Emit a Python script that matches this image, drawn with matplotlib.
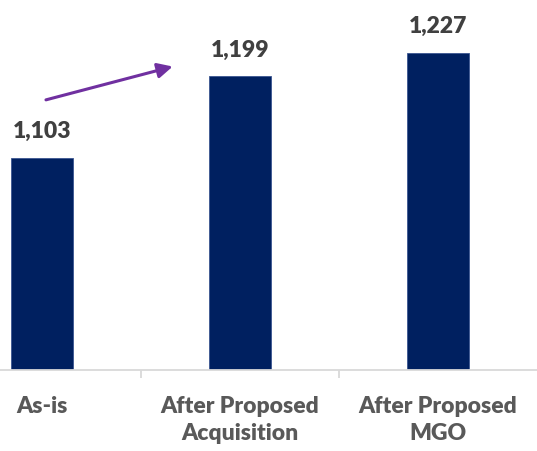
import numpy as np
import matplotlib.pyplot as plt

categories = ["As-is", "After Proposed\nAcquisition", "After Proposed\nMGO"]
values = [1103, 1199, 1227]
value_labels = ["1,103", "1,199", "1,227"]

plt.rcParams['font.family'] = ['Lato', 'DejaVu Sans']

fig = plt.figure(figsize=(5.37, 4.51), dpi=100)
ax = fig.add_axes([0, 81.5 / 451, 1, 369.5 / 451])

x = np.arange(len(values))
ax.bar(x, values, width=0.313, color='#002060', edgecolor='#3A5590', linewidth=0.6)

ax.set_xlim(-42 / 198, 2.5)
ax.set_ylim(853.5, 1289)

for a, b, t in zip(x, values, value_labels):
    ax.annotate(t, (a, b), xytext=(0, 14), textcoords='offset points',
                ha='center', va='baseline', fontsize=16.5, fontweight='heavy', color='#404040')

# growth arrow
ax.annotate('', xy=(0.66, 1210.6), xytext=(0.02, 1171.3),
            arrowprops=dict(arrowstyle='-|>,head_length=0.9,head_width=0.45',
                            color='#7030A0', lw=2.2, shrinkA=0, shrinkB=0))

for s in ['top', 'right', 'left']:
    ax.spines[s].set_visible(False)
ax.spines['bottom'].set_color('#D9D9D9')
ax.spines['bottom'].set_linewidth(1.3)
ax.set_yticks([])

ax.set_xticks(x)
ax.set_xticklabels(categories, fontsize=16.5, fontweight='heavy', color='#595959', linespacing=1.35)
ax.tick_params(axis='x', which='major', length=0, pad=19)
ax.set_xticks([0.5, 1.5], minor=True)
ax.tick_params(axis='x', which='minor', length=6, color='#D9D9D9', width=1.3)

fig.savefig('out.png', dpi=100)
